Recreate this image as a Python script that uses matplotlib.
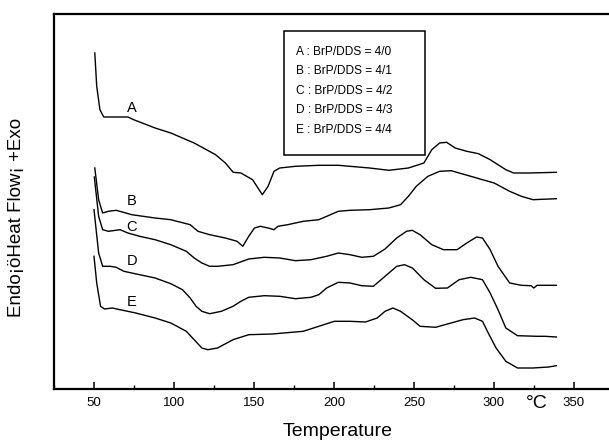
import matplotlib
matplotlib.use('agg')
import matplotlib.pyplot as plt
from matplotlib.patches import Rectangle
from matplotlib.ticker import MultipleLocator

plt.rcParams['font.family'] = ['Liberation Sans', 'DejaVu Sans']

# DSC traces (temperature in C, heat flow in arbitrary units)
a_temp = [50.5, 51.7, 53.7, 56.1, 60.2, 71.2, 74.8, 88.2, 98, 112.6, 126, 132.1, 137, 141.8,
          149.1, 155.2, 158.8, 162.5, 166.1, 175.9, 190.5, 202.7, 222.2, 234.3, 246.5, 256.2,
          261.1, 266, 270.4, 275.7, 283, 290.3, 297.6, 307.4, 312.3, 322, 339]
a_flow = [336, 302.7, 279.3, 272, 272, 272, 269.3, 261, 256, 246, 234.3, 226, 216.7, 216,
          209.3, 194.3, 202.7, 217.7, 221, 222.7, 223.7, 223.7, 221, 218.7, 221, 226,
          239.3, 246, 246.7, 241, 237.7, 235.3, 229.3, 219.3, 216, 216, 216.7]

b_temp = [50.5, 52.9, 55.4, 59, 63.9, 73.6, 88.2, 98, 110.1, 115, 122.3, 132.1, 139.4, 143,
          146.7, 150.3, 154, 158.8, 162.5, 164.9, 171, 180.8, 190.5, 197.8, 202.7, 210, 222.2,
          234.3, 241.6, 246.5, 251.4, 258.7, 266, 273.3, 278.2, 285.5, 292.8, 300.1, 309.8,
          317.1, 324.4, 339]
b_flow = [221, 189.3, 176, 177.7, 178.7, 174.3, 171, 169.3, 164.3, 157.7, 154.3, 151, 147.7, 142.7,
          152.7, 161, 162.7, 161, 159.3, 162.7, 164.3, 167.7, 169.3, 174.3, 177.7, 178.7, 179.3,
          181, 184.3, 192.7, 202.7, 212.7, 217.7, 218.3, 216, 212.7, 209.3, 206, 197.7,
          192.7, 189.3, 190.3]

c_temp = [50.2, 52.9, 55.4, 59, 66.3, 71.2, 78.5, 88.2, 98, 107.7, 112.6, 117.4, 122.3, 127.2,
          136.9, 146.7, 156.4, 166.1, 175.9, 185.6, 195.4, 202.7, 210, 217.3, 224.6, 231.9,
          239.2, 245.3, 248.9, 253.8, 261.1, 268.4, 276.9, 283, 289.1, 292.8, 297.6, 302.5,
          309.8, 317.1, 323.2, 324.9, 326.9, 339]
c_flow = [212, 172.7, 159.3, 157.7, 159.3, 156, 152.7, 149.3, 144.3, 137.7, 131, 126, 122.7, 122.7,
          124.3, 130, 131.7, 131, 128.3, 129.3, 132.7, 136, 134.3, 131.7, 132.7, 140,
          151, 157.7, 158.7, 154.3, 144.3, 139.3, 139.3, 146, 152, 151, 139.3, 122.7,
          106, 103.7, 103.3, 101, 103.7, 103.7]

d_temp = [50, 52.9, 55.4, 60.2, 63.9, 68.7, 78.5, 88.2, 98, 105.3, 110.1, 113.8, 117.4, 122.3,
          129.6, 136.9, 141.8, 146.7, 156.4, 166.1, 175.9, 185.6, 190.5, 195.4, 202.7, 210,
          217.3, 224.6, 231.9, 239.2, 244.1, 249, 256.2, 263.5, 270.9, 278.2, 285.5, 292.8,
          297.6, 302.5, 307.4, 314.7, 326.9, 331.7, 339]
d_flow = [179.3, 136, 122.7, 122.7, 121.7, 117.7, 114.3, 111, 105.3, 99.3, 91, 82.7, 77.7, 75.3,
          77.7, 82.7, 87.7, 91.7, 93.3, 92.7, 90.3, 91.7, 94.3, 101, 106.7, 106,
          103.3, 102.7, 112.7, 122.7, 124.3, 121, 109.3, 100.7, 101, 109.3, 111.7, 109.3,
          96, 79.3, 61, 53.3, 52.7, 52.7, 52]

e_temp = [50, 51.7, 54.1, 56.6, 61.4, 66.3, 76.1, 88.2, 98, 107.7, 112.6, 117.4, 121.1, 127.2,
          136.9, 146.7, 161.3, 180.8, 190.5, 200.2, 210, 219.7, 227, 231.9, 236.8, 241.6,
          248.9, 253.8, 263.5, 270.9, 280.6, 287.9, 292.8, 296.4, 301.3, 307.4, 314.7, 324.4,
          334.1, 339]
e_flow = [132.7, 106, 82.7, 80, 81, 79.3, 76, 71, 66, 57.7, 49.3, 41, 39.3, 41,
          49.3, 54.3, 55, 57.7, 62.7, 67.7, 67.7, 67, 71, 77.7, 81, 77.7,
          69.3, 62.7, 61.7, 65, 69.3, 71, 67.7, 56, 41, 27.7, 21, 21,
          22, 23.3]

curve_names = ['A', 'B', 'C', 'D', 'E']
label_flow = [281, 188, 162, 128, 87]
legend_lines = ['A : BrP/DDS = 4/0', 'B : BrP/DDS = 4/1', 'C : BrP/DDS = 4/2',
                'D : BrP/DDS = 4/3', 'E : BrP/DDS = 4/4']
x_ticks = [50, 100, 150, 200, 250, 300, 350]

fig = plt.figure(figsize=(6.09, 4.42), dpi=100)
# right spine sits past the figure edge, like the scanned original
ax = fig.add_axes([54 / 609, 53 / 442, 586 / 609, 375 / 442])
ax.set_xlim(25, 25 + 586 / 1.6)
ax.set_ylim(0, 375)

for t, f in [(a_temp, a_flow), (b_temp, b_flow), (c_temp, c_flow), (d_temp, d_flow), (e_temp, e_flow)]:
    ax.plot(t, f, color='black', lw=1.0)

for name, yv in zip(curve_names, label_flow):
    ax.text(73.6, yv, name, fontsize=10.5, ha='center', va='center')

# legend box
ax.add_patch(Rectangle((168.8, 234), 88.1, 124, fill=False, edgecolor='black', lw=1.1))
for i, line in enumerate(legend_lines):
    ax.text(176, 337.3 - i * 19.5, line, fontsize=8.6, va='center')

for sp in ax.spines.values():
    sp.set_linewidth(1.6)

ax.set_xticks(x_ticks)
ax.xaxis.set_minor_locator(MultipleLocator(25))
ax.tick_params(axis='x', which='major', direction='in', length=5, width=1.1, pad=6, labelsize=9.5)
ax.tick_params(axis='x', which='minor', direction='in', length=3, width=1.0)
ax.set_yticks([])

ax.text(327, -14, '°C', fontsize=14, ha='center', va='center')
ax.set_xlabel('Temperature', fontsize=14)
ax.xaxis.set_label_coords((338 - 54) / 586, -0.09)
fig.text(17 / 609, 1 - 217 / 442, 'Endo¡öHeat Flow¡ +Exo', rotation=90,
         fontsize=13.5, ha='center', va='center')

plt.savefig('out.png', dpi=100)
